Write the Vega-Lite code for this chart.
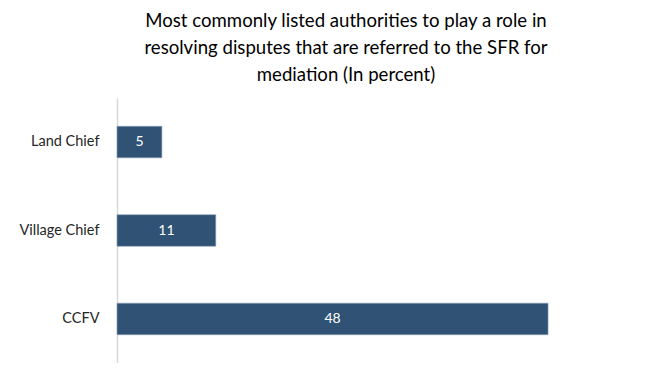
{
  "$schema": "https://vega.github.io/schema/vega-lite/v6.json",
  "autosize": "none",
  "padding": {"left": 117, "top": 98, "right": 0, "bottom": 0},
  "width": 458,
  "height": 265,
  "background": "white",
  "title": {
    "text": ["Most commonly listed authorities to play a role in", "resolving disputes that are referred to the SFR for", "mediation (In percent)"],
    "font": "Lato",
    "fontSize": 18.6,
    "fontWeight": "normal",
    "lineHeight": 27,
    "color": "#000000",
    "anchor": "middle",
    "offset": 13
  },
  "data": {
    "values": [
      {"authority": "Land Chief", "percent": 5},
      {"authority": "Village Chief", "percent": 11},
      {"authority": "CCFV", "percent": 48}
    ]
  },
  "transform": [{"calculate": "datum.percent / 2", "as": "mid"}],
  "encoding": {
    "y": {
      "field": "authority",
      "type": "nominal",
      "sort": ["Land Chief", "Village Chief", "CCFV"],
      "scale": {"paddingInner": 0.643, "paddingOuter": 0.32},
      "axis": {
        "title": null,
        "ticks": false,
        "domainColor": "#d9d9d9",
        "domainWidth": 1.5,
        "labelFont": "Lato",
        "labelFontSize": 14.5,
        "labelColor": "#262626",
        "labelPadding": 18
      }
    }
  },
  "layer": [
    {
      "mark": {"type": "bar", "color": "#2F5275", "stroke": "#8FA3BA", "strokeWidth": 0.6},
      "encoding": {
        "x": {
          "field": "percent",
          "type": "quantitative",
          "scale": {"domain": [0, 51], "nice": false},
          "axis": null
        }
      }
    },
    {
      "mark": {"type": "text", "color": "white", "font": "Lato", "fontSize": 14},
      "encoding": {
        "x": {"field": "mid", "type": "quantitative"},
        "text": {"field": "percent", "type": "quantitative"}
      }
    }
  ],
  "config": {"view": {"stroke": null}}
}
